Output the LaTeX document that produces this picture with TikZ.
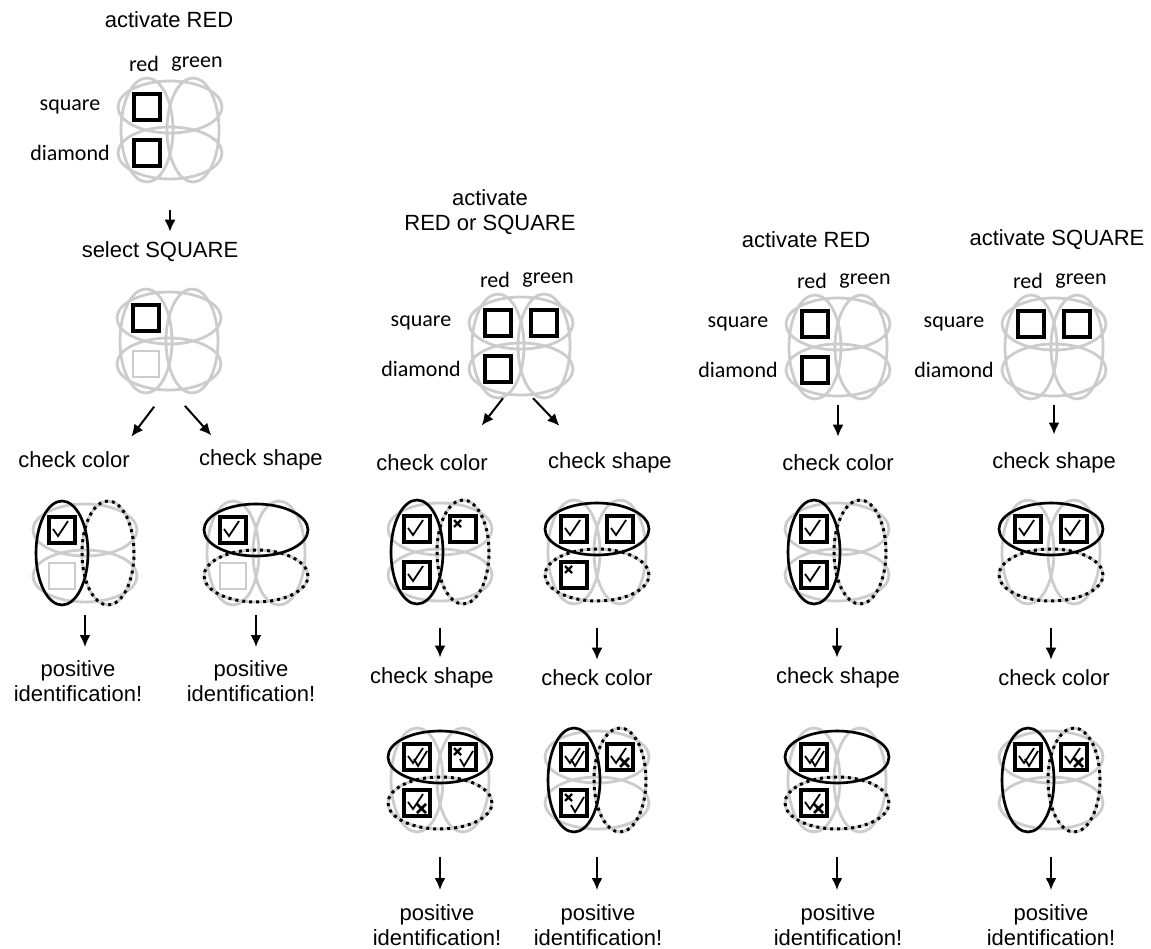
\documentclass[tikz,border=0pt]{standalone}
\usepackage{fontspec}
\setmainfont{Liberation Sans}
\newfontfamily\labelfont{Carlito}
\usetikzlibrary{positioning,arrows.meta}

\tikzset{
  ring/.style={black!20, line width=2.8pt},
  pale/.style={black!20, line width=2.6pt},
  item/.style={line width=3.2pt},
  keep/.style={line width=2.6pt},
  drop/.style={line width=3pt, dash pattern=on 3pt off 4pt},
  tick/.style={line width=1.8pt},
  cross/.style={line width=2.4pt},
  arr/.style={-{Latex[length=12pt,width=11pt]}, line width=2pt},
  head/.style={font=\fontsize{22}{25}\selectfont, align=center, inner sep=0pt},
  tag/.style={font=\labelfont\fontsize{22}{25}\selectfont, inner sep=0pt},
  spot/.style={minimum size=104pt, inner sep=0pt},
}

% the 2x2 feature grid: name, x, y
\newcommand{\cells}[3]{%
  \node[spot] (#1) at (#2,#3) {};
  \begin{scope}[shift={(#2,#3)}]
    \draw[ring] (-23,0) ellipse (26pt and 52pt);
    \draw[ring] (23,0) ellipse (26pt and 52pt);
    \draw[ring] (0,-23) ellipse (52pt and 26pt);
    \draw[ring] (0,23) ellipse (52pt and 26pt);
  \end{scope}}
\newcommand{\labels}[2]{%
  \begin{scope}[shift={(#1,#2)}]
    \node[tag] at (-26,-66) {red};
    \node[tag] at (27,-66) {green};
    \node[tag] at (-100,-23) {square};
    \node[tag] at (-100,23) {diamond};
  \end{scope}}
\newcommand{\colring}[2]{\draw[#1] (#2,0) ellipse (26pt and 52pt);}
\newcommand{\rowring}[2]{\draw[#1] (0,#2) ellipse (52pt and 26pt);}
\newcommand{\cbox}[2]{\draw[item] (#1-13,#2-13) rectangle (#1+13,#2+13);}
\newcommand{\pbox}[2]{\draw[pale] (#1-13,#2-13) rectangle (#1+13,#2+13);}
\newcommand{\tickA}[2]{\draw[tick] (#1-9,#2-1) -- (#1-4,#2+6) -- (#1+6,#2-9);}
\newcommand{\crossA}[2]{\draw[cross] (#1-9,#2-9) -- (#1-2,#2-2) (#1-9,#2-2) -- (#1-2,#2-9);}
\newcommand{\tickB}[2]{\draw[tick] (#1-3,#2+2) -- (#1+1,#2+9) -- (#1+10,#2-6);}
\newcommand{\crossB}[2]{\draw[cross, line width=2.8pt] (#1,#2+1) -- (#1+9,#2+10) (#1,#2+10) -- (#1+9,#2+1);}

\begin{document}
\begin{tikzpicture}[x=1pt,y=-1pt]
  \useasboundingbox (0,0) rectangle (1151,949);

  % column A: select then check
  \node[head] (actA) at (169,20) {activate RED};
  \cells{gA1}{170}{130}
  \labels{170}{130}
  \begin{scope}[shift={(170,130)}]
    \cbox{-23}{-23} \cbox{-23}{23}
  \end{scope}
  \node[head] (selA) at (160,252) {select SQUARE};
  \cells{gA2}{169}{341}
  \begin{scope}[shift={(169,341)}]
    \cbox{-23}{-23} \pbox{-23}{23}
  \end{scope}
  \node[head] (colA) at (74,460) {check color};
  \node[head] (shpA) at (261,460) {check shape};
  \cells{gA3}{85}{553}
  \begin{scope}[shift={(85,553)}]
    \colring{keep}{-23} \colring{drop}{23}
    \cbox{-23}{-23} \tickA{-23}{-23} \pbox{-23}{23}
  \end{scope}
  \cells{gA4}{256}{553}
  \begin{scope}[shift={(256,553)}]
    \rowring{keep}{-23} \rowring{drop}{23}
    \cbox{-23}{-23} \tickA{-23}{-23} \pbox{-23}{23}
  \end{scope}
  \node[head, anchor=north] (posA1) at (78,660) {positive\\identification!};
  \node[head, anchor=north] (posA2) at (251,660) {positive\\identification!};

  % column B: red or square
  \node[head] (actB) at (490,212) {activate\\RED or SQUARE};
  \cells{gB1}{521}{346}
  \labels{521}{346}
  \begin{scope}[shift={(521,346)}]
    \cbox{-23}{-23} \cbox{23}{-23} \cbox{-23}{23}
  \end{scope}
  \node[head] (colB) at (432,463) {check color};
  \node[head] (shpB) at (610,463) {check shape};
  \cells{gB2}{440}{552}
  \begin{scope}[shift={(440,552)}]
    \colring{keep}{-23} \colring{drop}{23}
    \cbox{-23}{-23} \tickA{-23}{-23}
    \cbox{23}{-23} \crossA{23}{-23}
    \cbox{-23}{23} \tickA{-23}{23}
  \end{scope}
  \cells{gB3}{597}{552}
  \begin{scope}[shift={(597,552)}]
    \rowring{keep}{-23} \rowring{drop}{23}
    \cbox{-23}{-23} \tickA{-23}{-23}
    \cbox{23}{-23} \tickA{23}{-23}
    \cbox{-23}{23} \crossA{-23}{23}
  \end{scope}
  \node[head] (shpB2) at (432,678) {check shape};
  \node[head] (colB2) at (597,678) {check color};
  \cells{gB4}{440}{780}
  \begin{scope}[shift={(440,780)}]
    \rowring{keep}{-23} \rowring{drop}{23}
    \cbox{-23}{-23} \tickA{-23}{-23} \tickB{-23}{-23}
    \cbox{23}{-23} \crossA{23}{-23} \tickB{23}{-23}
    \cbox{-23}{23} \tickA{-23}{23} \crossB{-23}{23}
  \end{scope}
  \cells{gB5}{597}{780}
  \begin{scope}[shift={(597,780)}]
    \colring{keep}{-23} \colring{drop}{23}
    \cbox{-23}{-23} \tickA{-23}{-23} \tickB{-23}{-23}
    \cbox{23}{-23} \tickA{23}{-23} \crossB{23}{-23}
    \cbox{-23}{23} \crossA{-23}{23} \tickB{-23}{23}
  \end{scope}
  \node[head, anchor=north] (posB1) at (437,904) {positive\\identification!};
  \node[head, anchor=north] (posB2) at (598,904) {positive\\identification!};

  % column C: red only
  \node[head] (actC) at (806,240) {activate RED};
  \cells{gC1}{838}{347}
  \labels{838}{347}
  \begin{scope}[shift={(838,347)}]
    \cbox{-23}{-23} \cbox{-23}{23}
  \end{scope}
  \node[head] (colC) at (838,463) {check color};
  \cells{gC2}{837}{552}
  \begin{scope}[shift={(837,552)}]
    \colring{keep}{-23} \colring{drop}{23}
    \cbox{-23}{-23} \tickA{-23}{-23}
    \cbox{-23}{23} \tickA{-23}{23}
  \end{scope}
  \node[head] (shpC) at (838,678) {check shape};
  \cells{gC3}{837}{780}
  \begin{scope}[shift={(837,780)}]
    \rowring{keep}{-23} \rowring{drop}{23}
    \cbox{-23}{-23} \tickA{-23}{-23} \tickB{-23}{-23}
    \cbox{-23}{23} \tickA{-23}{23} \crossB{-23}{23}
  \end{scope}
  \node[head, anchor=north] (posC) at (838,904) {positive\\identification!};

  % column D: square only
  \node[head] (actD) at (1057,240) {activate SQUARE};
  \cells{gD1}{1054}{347}
  \labels{1054}{347}
  \begin{scope}[shift={(1054,347)}]
    \cbox{-23}{-23} \cbox{23}{-23}
  \end{scope}
  \node[head] (shpD) at (1054,463) {check shape};
  \cells{gD2}{1051}{552}
  \begin{scope}[shift={(1051,552)}]
    \rowring{keep}{-23} \rowring{drop}{23}
    \cbox{-23}{-23} \tickA{-23}{-23}
    \cbox{23}{-23} \tickA{23}{-23}
  \end{scope}
  \node[head] (colD) at (1054,678) {check color};
  \cells{gD3}{1051}{780}
  \begin{scope}[shift={(1051,780)}]
    \colring{keep}{-23} \colring{drop}{23}
    \cbox{-23}{-23} \tickA{-23}{-23} \tickB{-23}{-23}
    \cbox{23}{-23} \tickA{23}{-23} \crossB{23}{-23}
  \end{scope}
  \node[head, anchor=north] (posD) at (1051,904) {positive\\identification!};

  % arrows
  \draw[arr, shorten <=28pt, shorten >=10pt] (gA1.south) -- (gA1.south |- selA.north);
  \draw[arr, shorten <=17pt, shorten >=19pt] (gA2.-95) -- ([xshift=-10pt]colA.north east);
  \draw[arr, shorten <=17pt, shorten >=19pt] (gA2.-85) -- ([xshift=25pt]shpA.north west);
  \draw[arr, shorten <=10pt, shorten >=13pt] (gA3.south) -- (gA3.south |- posA1.north);
  \draw[arr, shorten <=10pt, shorten >=13pt] (gA4.south) -- (gA4.south |- posA2.north);
  \draw[arr, shorten >=37pt] (gB1.-109) -- ([xshift=-29pt]colB.north east);
  \draw[arr, shorten >=37pt] (gB1.-77) -- ([xshift=37pt]shpB.north west);
  \draw[arr, shorten <=24pt, shorten >=10pt] (gB2.south) -- (gB2.south |- shpB2.north);
  \draw[arr, shorten <=24pt, shorten >=10pt] (gB3.south) -- (gB3.south |- colB2.north);
  \draw[arr, shorten <=25pt, shorten >=14pt] (gB4.south) -- (gB4.south |- posB1.north);
  \draw[arr, shorten <=25pt, shorten >=14pt] (gB5.south) -- (gB5.south |- posB2.north);
  \draw[arr, shorten <=6pt, shorten >=18pt] (gC1.south) -- (gC1.south |- colC.north);
  \draw[arr, shorten <=24pt, shorten >=10pt] (gC2.south) -- (gC2.south |- shpC.north);
  \draw[arr, shorten <=25pt, shorten >=14pt] (gC3.south) -- (gC3.south |- posC.north);
  \draw[arr, shorten <=6pt, shorten >=18pt] (gD1.south) -- (gD1.south |- shpD.north);
  \draw[arr, shorten <=24pt, shorten >=10pt] (gD2.south) -- (gD2.south |- colD.north);
  \draw[arr, shorten <=25pt, shorten >=14pt] (gD3.south) -- (gD3.south |- posD.north);
\end{tikzpicture}
\end{document}
